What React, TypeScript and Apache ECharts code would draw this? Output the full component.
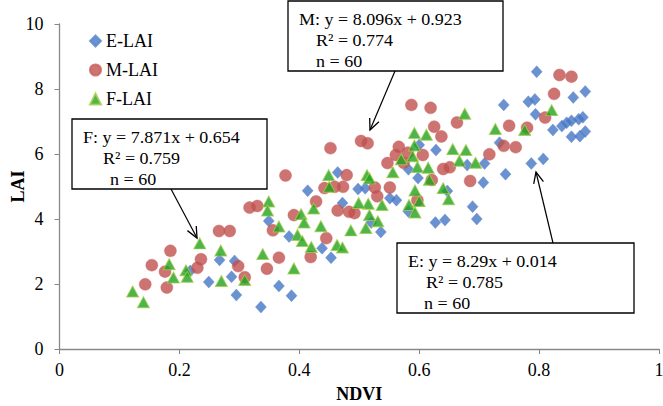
import React, { useEffect, useRef } from "react";
import * as echarts from "echarts";

const seriesNames = ["E-LAI", "M-LAI", "F-LAI"];

const eLai: [number, number][] = [
  [0.218, 2.40], [0.267, 2.74], [0.292, 2.71], [0.249, 2.06], [0.287, 2.22], [0.295, 1.66],
  [0.336, 1.29], [0.464, 5.43], [0.414, 4.87], [0.472, 4.49], [0.349, 3.94], [0.383, 3.46],
  [0.438, 3.10], [0.453, 2.81], [0.366, 1.94], [0.387, 1.64], [0.628, 6.12], [0.582, 5.53],
  [0.598, 5.26], [0.498, 4.92], [0.510, 4.95], [0.551, 4.64], [0.562, 4.58], [0.536, 3.60],
  [0.627, 3.89], [0.643, 3.97], [0.582, 4.23], [0.600, 6.28], [0.680, 5.66], [0.647, 4.86],
  [0.520, 3.89], [0.689, 4.38], [0.796, 8.53], [0.877, 7.92], [0.857, 7.74], [0.782, 7.61],
  [0.793, 7.68], [0.741, 7.51], [0.794, 7.22], [0.823, 6.74], [0.838, 6.86], [0.846, 6.96],
  [0.854, 7.02], [0.866, 7.07], [0.873, 7.13], [0.854, 6.53], [0.868, 6.55], [0.877, 6.69],
  [0.787, 5.71], [0.807, 5.85], [0.734, 6.35], [0.744, 5.38], [0.709, 5.71], [0.707, 5.12],
  [0.696, 4.00],
];

const mLai: [number, number][] = [
  [0.317, 4.35], [0.330, 4.40], [0.266, 3.63], [0.284, 3.63], [0.185, 3.02], [0.154, 2.58],
  [0.176, 2.38], [0.143, 1.99], [0.179, 1.89], [0.236, 2.76], [0.230, 2.50], [0.298, 2.55],
  [0.309, 2.21], [0.452, 6.18], [0.377, 5.34], [0.428, 4.54], [0.391, 4.12], [0.356, 3.65],
  [0.442, 4.95], [0.459, 4.99], [0.473, 4.99], [0.479, 5.35], [0.464, 4.26], [0.483, 4.22],
  [0.445, 3.41], [0.366, 2.81], [0.419, 2.83], [0.346, 2.47], [0.503, 6.40], [0.514, 6.33],
  [0.566, 6.22], [0.561, 5.97], [0.606, 5.97], [0.637, 6.54], [0.547, 5.72], [0.526, 4.97],
  [0.551, 4.97], [0.530, 4.70], [0.492, 4.18], [0.640, 5.54], [0.621, 5.20], [0.587, 7.51],
  [0.619, 7.42], [0.663, 6.97], [0.625, 6.84], [0.581, 6.04], [0.574, 5.73], [0.651, 5.59],
  [0.685, 5.17], [0.597, 4.58], [0.834, 8.43], [0.854, 8.38], [0.825, 7.85], [0.810, 7.12],
  [0.750, 6.87], [0.780, 6.81], [0.741, 6.25], [0.761, 6.21], [0.717, 5.99],
];

const fLai: [number, number][] = [
  [0.122, 1.77], [0.140, 1.44], [0.234, 3.25], [0.269, 3.03], [0.183, 2.61], [0.190, 2.20],
  [0.211, 2.42], [0.213, 2.22], [0.270, 2.09], [0.309, 2.12], [0.339, 2.92], [0.349, 4.54],
  [0.347, 4.26], [0.366, 3.77], [0.403, 4.15], [0.408, 3.89], [0.424, 4.32], [0.436, 3.78],
  [0.397, 3.51], [0.405, 3.32], [0.420, 3.14], [0.463, 3.20], [0.472, 3.12], [0.486, 3.65],
  [0.391, 2.48], [0.449, 5.35], [0.450, 4.99], [0.592, 6.65], [0.612, 6.59], [0.570, 5.84],
  [0.592, 6.26], [0.589, 5.93], [0.597, 5.60], [0.615, 5.58], [0.556, 5.44], [0.513, 5.35],
  [0.517, 5.25], [0.617, 5.21], [0.640, 4.95], [0.593, 4.88], [0.600, 4.55], [0.583, 4.43],
  [0.593, 4.20], [0.538, 4.43], [0.515, 4.47], [0.499, 4.49], [0.517, 4.12], [0.531, 3.93],
  [0.511, 3.72], [0.649, 4.61], [0.676, 7.24], [0.656, 6.15], [0.678, 6.12], [0.667, 5.79],
  [0.821, 7.35], [0.727, 6.77], [0.776, 6.74], [0.694, 5.73],
];

const xTickLabels = ["0", "0.2", "0.4", "0.6", "0.8", "1"];
const yTickLabels = ["0", "2", "4", "6", "8", "10"];

const fBoxLines = ["F: y = 7.871x + 0.654", "R\u00B2 = 0.759", "n = 60"];
const mBoxLines = ["M: y = 8.096x + 0.923", "R\u00B2 = 0.774", "n = 60"];
const eBoxLines = ["E: y = 8.29x + 0.014", "R\u00B2 = 0.785", "n = 60"];

const FONT = "'Liberation Serif', 'Times New Roman', serif";

function makeBox(
  x: number, y: number, w: number, h: number,
  lines: string[], pos: [number, number][]
): any[] {
  const els: any[] = [
    {
      type: "rect",
      shape: { x, y, width: w, height: h },
      style: { fill: "#fff", stroke: "#000", lineWidth: 1.3 },
      z: 100,
    },
  ];
  lines.forEach((t, i) => {
    els.push({
      type: "text",
      x: pos[i][0],
      y: pos[i][1],
      scaleX: 1.06,
      style: {
        text: t,
        fontFamily: FONT,
        fontSize: 17,
        fill: "#000",
        verticalAlign: "middle",
        align: "left",
      },
      z: 101,
    });
  });
  return els;
}

function makeArrow(x1: number, y1: number, x2: number, y2: number): any[] {
  const dx = x2 - x1;
  const dy = y2 - y1;
  const len = Math.sqrt(dx * dx + dy * dy);
  const ux = dx / len;
  const uy = dy / len;
  const nx = -uy;
  const ny = ux;
  const hl = 11;
  const hw = 5;
  return [
    {
      type: "line",
      shape: { x1, y1, x2, y2 },
      style: { stroke: "#000", lineWidth: 1.2 },
      z: 102,
    },
    {
      type: "polyline",
      shape: {
        points: [
          [x2 - hl * ux + hw * nx, y2 - hl * uy + hw * ny],
          [x2, y2],
          [x2 - hl * ux - hw * nx, y2 - hl * uy - hw * ny],
        ],
      },
      style: { stroke: "#000", lineWidth: 1.3, fill: null },
      z: 102,
    },
  ];
}

export default function App() {
  const ref = useRef<HTMLDivElement>(null);

  useEffect(() => {
    if (!ref.current) return;
    const chart = echarts.init(ref.current, undefined, { renderer: "svg" });

    const graphic: any[] = [
      ...makeBox(72, 119, 195, 70, fBoxLines, [[83, 137], [103, 158], [110, 179]]),
      ...makeBox(288, 1, 215, 70, mBoxLines, [[299, 19], [316, 40], [316, 61]]),
      ...makeBox(397, 243, 237, 70, eBoxLines, [[408, 261], [426, 282], [424, 303]]),
      ...makeArrow(171, 189, 197, 238),
      ...makeArrow(395, 71, 370, 130),
      ...makeArrow(553, 243, 536, 172),
    ];

    chart.setOption({
      animation: false,
      backgroundColor: "#fff",
      textStyle: { fontFamily: FONT },
      grid: {
        left: 59.5,
        right: 4,
        top: 24,
        bottom: 57,
        containLabel: false,
        outerBoundsMode: "none",
      },
      legend: {
        orient: "vertical",
        left: 89,
        top: 31,
        padding: 0,
        itemWidth: 11,
        itemHeight: 11,
        itemGap: 9,
        textStyle: { fontFamily: FONT, fontSize: 18, color: "#000", lineHeight: 20 },
        data: seriesNames,
      },
      xAxis: {
        type: "value",
        min: 0,
        max: 1,
        interval: 0.2,
        name: "NDVI",
        nameLocation: "middle",
        nameGap: 36,
        nameMoveOverlap: false,
        nameTextStyle: { fontFamily: FONT, fontSize: 18, fontWeight: "bold", color: "#000" },
        axisLine: { show: true, lineStyle: { color: "#888", width: 1.3 } },
        axisTick: { show: true, inside: false, length: 5, lineStyle: { color: "#888" } },
        axisLabel: {
          margin: 12,
          fontFamily: FONT,
          fontSize: 18,
          color: "#000",
          formatter: (v: number) => xTickLabels[Math.round(v / 0.2)],
        },
        splitLine: { show: false },
      },
      yAxis: {
        type: "value",
        min: 0,
        max: 10,
        interval: 2,
        name: "LAI",
        nameLocation: "middle",
        nameGap: 33,
        nameMoveOverlap: false,
        nameTextStyle: { fontFamily: FONT, fontSize: 18, fontWeight: "bold", color: "#000" },
        axisLine: { show: true, lineStyle: { color: "#888", width: 1.3 } },
        axisTick: { show: true, inside: false, length: 5, lineStyle: { color: "#888" } },
        axisLabel: {
          margin: 16,
          fontFamily: FONT,
          fontSize: 18,
          color: "#000",
          formatter: (v: number) => yTickLabels[Math.round(v / 2)],
        },
        splitLine: { show: false },
      },
      series: [
        {
          name: seriesNames[0],
          type: "scatter",
          symbol: "diamond",
          symbolSize: [11, 12],
          data: eLai,
          itemStyle: { color: "#4677C4", borderColor: "#5B87CC", borderWidth: 0.5 },
          z: 2,
        },
        {
          name: seriesNames[1],
          type: "scatter",
          symbol: "circle",
          symbolSize: 12,
          data: mLai,
          itemStyle: { color: "#C0504D", borderColor: "#C96360", borderWidth: 0.5 },
          z: 3,
        },
        {
          name: seriesNames[2],
          type: "scatter",
          symbol: "triangle",
          symbolSize: [12, 11],
          data: fLai,
          itemStyle: { color: "#1FA21F", borderColor: "#A6CC4A", borderWidth: 1 },
          z: 4,
        },
      ],
      graphic,
    });

    return () => chart.dispose();
  }, []);

  return (
    <div
      ref={ref}
      style={{ position: "fixed", left: 0, top: 0, width: 663, height: 406, background: "#fff" }}
    />
  );
}
